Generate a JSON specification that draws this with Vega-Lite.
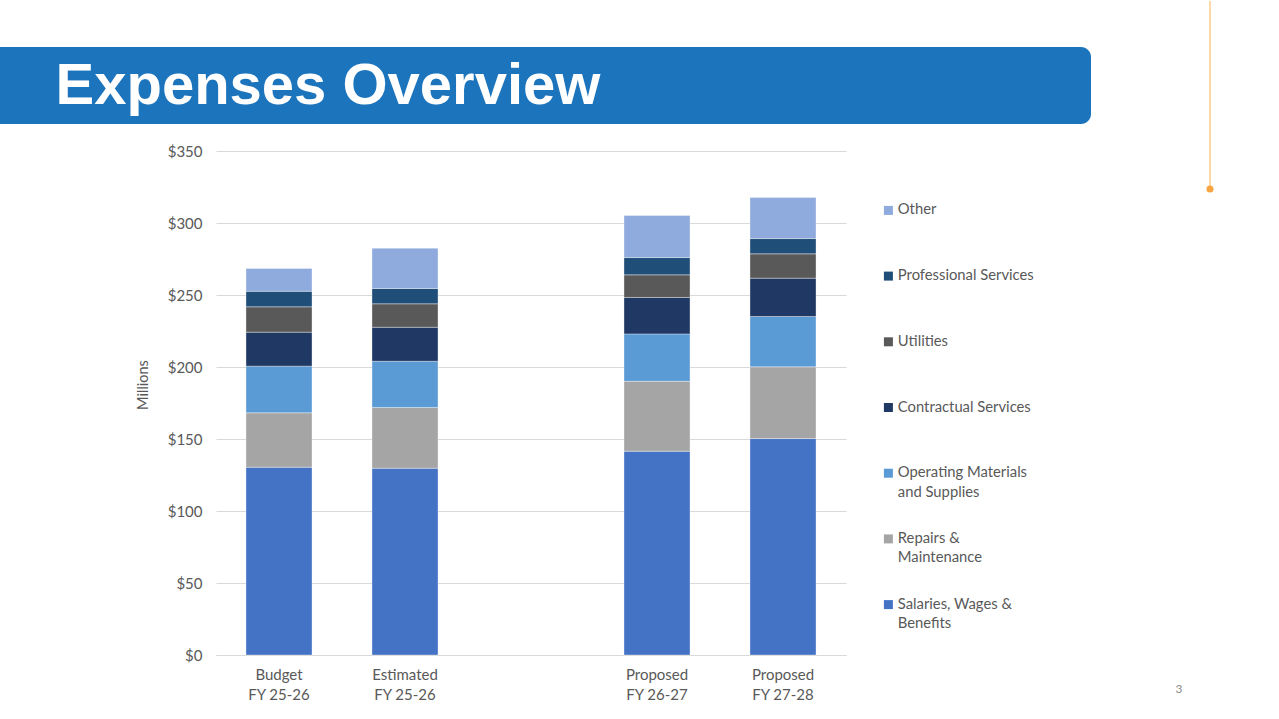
{
  "$schema": "https://vega.github.io/schema/vega-lite/v6.json",
  "padding": 0,
  "background": "white",
  "config": {"view": {"stroke": null}, "font": "Lato", "style": {"guide-label": {"lineHeight": 19.5}}},
  "spacing": 60,
  "hconcat": [
    {
      "spacing": 20,
      "vconcat": [
        {
          "width": 1091,
          "height": 77,
          "data": {"values": [{"heading": "Expenses Overview"}]},
          "layer": [
            {
              "mark": {"type": "rect", "color": "#1c75bc", "cornerRadiusTopRight": 10, "cornerRadiusBottomRight": 10},
              "encoding": {
                "x": {"datum": 0, "type": "quantitative", "scale": {"domain": [0, 1], "nice": false}, "axis": null},
                "x2": {"datum": 1},
                "y": {"datum": 0, "type": "quantitative", "scale": {"domain": [0, 1], "nice": false}, "axis": null},
                "y2": {"datum": 1}
              }
            },
            {
              "mark": {"type": "text", "font": "Liberation Sans", "fontSize": 58, "fontWeight": "bold", "color": "white", "align": "left", "baseline": "alphabetic"},
              "encoding": {
                "text": {"field": "heading"},
                "x": {"datum": 0.0509, "type": "quantitative", "axis": null},
                "y": {"datum": 0.256, "type": "quantitative", "axis": null}
              }
            }
          ]
        },
        {
          "spacing": 10,
          "hconcat": [
            {"width": 125, "height": 10, "data": {"values": []}, "mark": "point"},
            {
              "width": 630,
              "height": 504,
              "data": {"values": [
                {"period": "Budget FY 25-26", "category": "Salaries, Wages & Benefits", "value": 130.4},
                {"period": "Budget FY 25-26", "category": "Repairs & Maintenance", "value": 37.8},
                {"period": "Budget FY 25-26", "category": "Operating Materials and Supplies", "value": 32.4},
                {"period": "Budget FY 25-26", "category": "Contractual Services", "value": 23.6},
                {"period": "Budget FY 25-26", "category": "Utilities", "value": 17.6},
                {"period": "Budget FY 25-26", "category": "Professional Services", "value": 10.8},
                {"period": "Budget FY 25-26", "category": "Other", "value": 15.8},
                {"period": "Estimated FY 25-26", "category": "Salaries, Wages & Benefits", "value": 129.7},
                {"period": "Estimated FY 25-26", "category": "Repairs & Maintenance", "value": 42.2},
                {"period": "Estimated FY 25-26", "category": "Operating Materials and Supplies", "value": 32.1},
                {"period": "Estimated FY 25-26", "category": "Contractual Services", "value": 23.6},
                {"period": "Estimated FY 25-26", "category": "Utilities", "value": 16.3},
                {"period": "Estimated FY 25-26", "category": "Professional Services", "value": 10.6},
                {"period": "Estimated FY 25-26", "category": "Other", "value": 28.0},
                {"period": "Proposed FY 26-27", "category": "Salaries, Wages & Benefits", "value": 141.5},
                {"period": "Proposed FY 26-27", "category": "Repairs & Maintenance", "value": 48.6},
                {"period": "Proposed FY 26-27", "category": "Operating Materials and Supplies", "value": 32.9},
                {"period": "Proposed FY 26-27", "category": "Contractual Services", "value": 25.3},
                {"period": "Proposed FY 26-27", "category": "Utilities", "value": 15.7},
                {"period": "Proposed FY 26-27", "category": "Professional Services", "value": 12.0},
                {"period": "Proposed FY 26-27", "category": "Other", "value": 29.2},
                {"period": "Proposed FY 27-28", "category": "Salaries, Wages & Benefits", "value": 150.3},
                {"period": "Proposed FY 27-28", "category": "Repairs & Maintenance", "value": 49.8},
                {"period": "Proposed FY 27-28", "category": "Operating Materials and Supplies", "value": 35.0},
                {"period": "Proposed FY 27-28", "category": "Contractual Services", "value": 26.6},
                {"period": "Proposed FY 27-28", "category": "Utilities", "value": 16.9},
                {"period": "Proposed FY 27-28", "category": "Professional Services", "value": 10.6},
                {"period": "Proposed FY 27-28", "category": "Other", "value": 28.5}
              ]},
              "transform": [{"window": [{"op": "row_number", "as": "stackRank"}], "groupby": ["period"]}],
              "mark": {"type": "bar", "stroke": "white", "strokeWidth": 0.5, "strokeOpacity": 0.7},
              "encoding": {
                "x": {
                  "field": "period",
                  "type": "nominal",
                  "scale": {"domain": ["Budget FY 25-26", "Estimated FY 25-26", " ", "Proposed FY 26-27", "Proposed FY 27-28"], "paddingInner": 0.476, "paddingOuter": 0.238},
                  "axis": {
                    "title": null,
                    "labelAngle": 0,
                    "labelExpr": "indexof(datum.label, ' FY') > 0 ? [slice(datum.label, 0, indexof(datum.label, ' FY')), slice(datum.label, indexof(datum.label, ' FY') + 1)] : ''",
                    "labelFont": "Lato",
                    "labelFontSize": 15,
                    "labelColor": "#595959",
                    "labelPadding": 12,
                    "labelLineHeight": 20,
                    "ticks": false,
                    "domainColor": "#d9d9d9",
                    "grid": false
                  }
                },
                "y": {
                  "field": "value",
                  "type": "quantitative",
                  "stack": "zero",
                  "scale": {"domain": [0, 350], "nice": false},
                  "axis": {
                    "title": "Millions",
                    "values": [0, 50, 100, 150, 200, 250, 300, 350],
                    "format": "$d",
                    "labelFont": "Lato",
                    "labelFontSize": 15,
                    "labelColor": "#595959",
                    "labelPadding": 14,
                    "domain": false,
                    "ticks": false,
                    "gridColor": "#d9d9d9",
                    "titleFont": "Lato",
                    "titleColor": "#595959",
                    "titleFontSize": 14.5,
                    "titleFontWeight": "normal",
                    "titlePadding": 17,
                    "titleY": 233.5
                  }
                },
                "color": {
                  "field": "category",
                  "type": "nominal",
                  "scale": {
                    "domain": ["Other", "Professional Services", "Utilities", "Contractual Services", "Operating Materials and Supplies", "Repairs & Maintenance", "Salaries, Wages & Benefits"],
                    "range": ["#8faadc", "#1f4e79", "#595959", "#203864", "#5b9bd5", "#a5a5a5", "#4472c4"]
                  },
                  "legend": {
                    "orient": "none",
                    "legendX": 881,
                    "legendY": 156,
                    "title": null,
                    "padding": 0,
                    "symbolType": "square",
                    "symbolSize": 81,
                    "symbolStrokeWidth": 0,
                    "symbolOpacity": 1,
                    "labelFont": "Lato",
                    "labelFontSize": 14.8,
                    "labelColor": "#595959",
                    "labelOffset": 2,
                    "labelLimit": 300,
                    "gridAlign": "all",
                    "rowPadding": 30.7,
                    "labelExpr": "datum.label == 'Operating Materials and Supplies' ? ['Operating Materials', 'and Supplies'] : datum.label == 'Repairs & Maintenance' ? ['Repairs &', 'Maintenance'] : datum.label == 'Salaries, Wages & Benefits' ? ['Salaries, Wages &', 'Benefits'] : datum.label"
                  }
                },
                "order": {"field": "stackRank", "type": "quantitative"}
              }
            }
          ]
        }
      ]
    },
    {
      "width": 80,
      "height": 650,
      "data": {"values": [{"page": "3"}]},
      "layer": [
        {
          "mark": {"type": "rule", "color": "#f9b450", "strokeWidth": 1},
          "encoding": {
            "x": {"datum": 0.7375, "type": "quantitative", "scale": {"domain": [0, 1], "nice": false}, "axis": null},
            "y": {"datum": 1.0708, "type": "quantitative", "scale": {"domain": [0, 1], "nice": false}, "axis": null},
            "y2": {"datum": 0.7815}
          }
        },
        {
          "mark": {"type": "point", "filled": true, "color": "#f7a541", "size": 50, "opacity": 1},
          "encoding": {
            "x": {"datum": 0.7375, "type": "quantitative", "axis": null},
            "y": {"datum": 0.7815, "type": "quantitative", "axis": null}
          }
        },
        {
          "mark": {"type": "text", "fontSize": 12, "color": "#8c8c8c", "font": "Lato"},
          "encoding": {
            "text": {"field": "page"},
            "x": {"datum": 0.35, "type": "quantitative", "axis": null},
            "y": {"datum": 0.0123, "type": "quantitative", "axis": null}
          }
        }
      ]
    }
  ]
}
